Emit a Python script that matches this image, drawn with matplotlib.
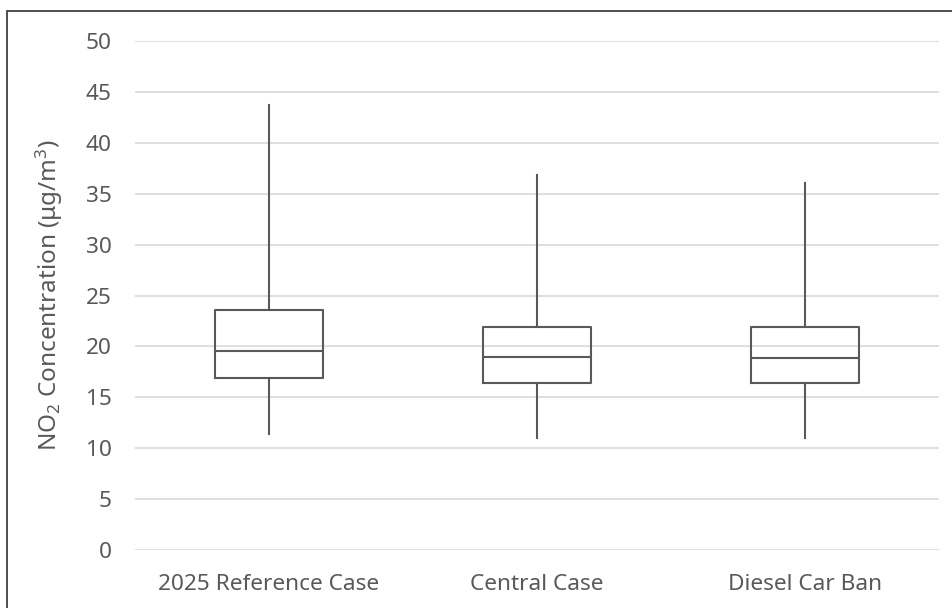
import matplotlib.pyplot as plt
from matplotlib.patches import Rectangle

plt.rcParams['font.family'] = ['Noto Sans', 'DejaVu Sans']
plt.rcParams['mathtext.default'] = 'regular'

cases = ['2025 Reference Case', 'Central Case', 'Diesel Car Ban']
whisker_low = [11.4, 11.0, 11.0]
q1 = [16.9, 16.4, 16.4]
median = [19.5, 19.0, 18.9]
q3 = [23.6, 21.9, 21.9]
whisker_high = [43.7, 36.8, 36.1]

grey = '#595959'

stats = []
for i in range(len(cases)):
    stats.append({'label': cases[i], 'whislo': whisker_low[i], 'q1': q1[i],
                  'med': median[i], 'q3': q3[i], 'whishi': whisker_high[i]})

fig = plt.figure(figsize=(9.53, 6.08), dpi=100)
ax = fig.add_axes([135 / 953, 1 - 550 / 608, 804 / 953, 509 / 608])

line = dict(color=grey, linewidth=1.5)
ax.bxp(stats, positions=[1, 2, 3], widths=0.4, showfliers=False, showcaps=False,
       boxprops=line, whiskerprops=line, medianprops=line)

ax.set_xlim(0.5, 3.5)
ax.set_ylim(0, 50)
ax.set_yticks(range(0, 51, 5))
ax.grid(axis='y', color='#d9d9d9', linewidth=1.2)
ax.set_axisbelow(True)
for s in ax.spines.values():
    s.set_visible(False)
ax.tick_params(length=0, labelsize=16.3, labelcolor=grey)
ax.tick_params(axis='y', pad=17)
ax.tick_params(axis='x', pad=17.5)

ax.set_ylabel(r'NO$_2$ Concentration (μg/m$^3$)', fontsize=17.5, color=grey)
ax.yaxis.set_label_coords(-70 / 804, 0.5)

fig.patches.append(Rectangle((7 / 953, -0.1), 2, 1 - 11 / 608 + 0.1, transform=fig.transFigure,
                             fill=False, edgecolor='#404040', linewidth=1.3))

fig.savefig('out.png', dpi=100)
